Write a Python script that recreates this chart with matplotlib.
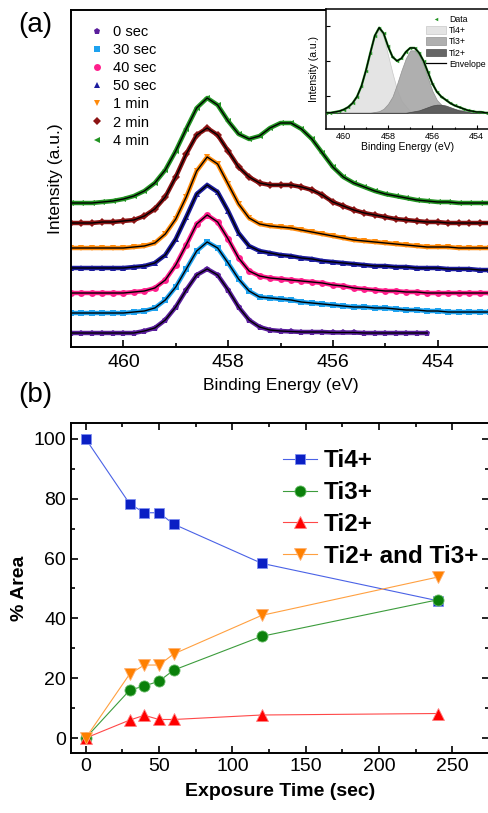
import numpy as np
import matplotlib.pyplot as plt
from matplotlib.ticker import MultipleLocator

plt.rcParams['font.family'] = ['Liberation Sans', 'DejaVu Sans']

# ---- panel (a): Ti 2p3/2 spectra (a.u., offset stacked) ----
energy = np.round(np.linspace(461.0, 453.0, 41), 1)

spec_0s = [14, 14, 14, 14, 14, 14, 14, 16, 19, 27, 40, 57, 72, 78, 72, 57, 40, 27,
           20, 17, 16, 15.5, 15, 15, 15, 14.5, 14.5, 14.5, 14, 14, 14, 14, 14, 14, 14]
spec_30s = [34, 34, 34, 34, 34, 34, 35, 36, 39, 47, 60, 78, 96, 105, 99, 84, 68, 56,
            50, 49, 48, 47, 45, 44, 43, 42, 41, 40, 40, 39, 39, 38, 37, 37, 36, 36,
            35, 35, 35, 35, 35]
spec_40s = [54, 54, 54, 54, 54, 54, 55, 56, 59, 67, 82, 102, 123, 132, 125, 108, 89,
            76, 71, 69, 68, 67, 66, 65, 64, 62, 61, 59, 58, 57, 56, 56, 55, 55, 54, 54,
            54, 54, 54, 54, 54]
spec_50s = [79, 79, 79, 79, 79, 79, 80, 81, 84, 92, 108, 130, 153, 162, 155, 136, 114,
            101, 96, 94, 92, 91, 89, 88, 86, 85, 84, 83, 82, 81, 81, 80, 80, 79, 79, 79,
            78, 78, 78, 77, 77]
spec_1min = [99, 99, 99, 99, 99, 99, 100, 101, 104, 113, 128, 150, 176, 190, 183, 163,
             143, 129, 123, 121, 120, 119, 117, 115, 113, 111, 109, 107, 106, 105, 104,
             103, 102, 101, 100, 100, 100, 99, 99, 99, 99]
spec_2min = [124, 124, 124, 125, 125, 126, 127, 131, 138, 150, 170, 193, 212, 219, 212,
             196, 180, 170, 164, 162, 162, 162, 160, 157, 152, 145, 141, 137, 134, 132,
             130, 128, 127, 126, 125, 125, 124, 124, 124, 124, 124]
spec_4min = [144, 144, 144, 145, 146, 148, 151, 156, 164, 177, 196, 218, 239, 249, 242,
             226, 213, 208, 211, 219, 224, 224, 218, 208, 194, 180, 170, 164, 160, 156,
             153, 151, 149, 147, 146, 145, 145, 144, 144, 144, 144]

labels_a = ["0 sec", "30 sec", "40 sec", "50 sec", "1 min", "2 min", "4 min"]
colors_a = ["#5a1e9c", "#1ea2ef", "#ff1f8c", "#1c1c9e", "#ff8a0a", "#8c1414", "#229422"]
markers_a = ["p", "s", "o", "^", "v", "D", "<"]
msize_a = [5, 4.5, 5, 5, 5, 4, 5]

# inset: 4 min spectrum deconvolved (component heights above background)
fit_base = 144
comp_ti4 = [0, 0, 0, 1, 2, 4, 7, 12, 20, 33, 52, 74, 94, 103, 93, 71, 49, 29, 15, 8, 2, 1,
            0, 0, 0, 0, 0, 0, 0, 0, 0, 0, 0, 0, 0, 0, 0, 0, 0, 0, 0]
comp_ti3 = [0, 0, 0, 0, 0, 0, 0, 0, 0, 0, 0, 0, 1, 2, 5, 11, 20, 35, 52, 67, 77, 77, 71,
            59, 43, 27, 16, 10, 7, 5, 4, 4, 3, 2, 2, 1, 1, 0, 0, 0, 0]
comp_ti2 = [0, 0, 0, 0, 0, 0, 0, 0, 0, 0, 0, 0, 0, 0, 0, 0, 0, 0, 0, 0, 1, 2, 3, 5, 7, 9,
            10, 10, 9, 7, 5, 3, 2, 1, 0, 0, 0, 0, 0, 0, 0]

# ---- panel (b): % area vs exposure time ----
exposure = [0, 30, 40, 50, 60, 120, 240]
area_ti4 = [100, 78.3, 75.3, 75.3, 71.5, 58.4, 45.9]
area_ti3 = [0, 16.0, 17.4, 19.0, 22.7, 34.0, 46.2]
area_ti2 = [0, 6.0, 7.6, 6.2, 6.2, 7.7, 8.2]
area_ti23 = [0, 21.4, 24.4, 24.4, 28.1, 41.0, 53.8]


def style_spines(ax, lw=1.4):
    for s in ax.spines.values():
        s.set_linewidth(lw)


fig = plt.figure(figsize=(4.88, 8.13), dpi=100)

# ---------------- panel (a) ----------------
ax = fig.add_axes([71 / 488, 466 / 813, 419 / 488, 337 / 813])
spectra = [spec_0s, spec_30s, spec_40s, spec_50s, spec_1min, spec_2min, spec_4min]
for y, lab, c, m, ms in zip(spectra, labels_a, colors_a, markers_a, msize_a):
    x = energy[:len(y)]
    # dense data band under the markers
    ax.plot(x, y, color=c, lw=3.2, solid_capstyle="round")
    ax.plot(x, y, ls="none", marker=m, ms=ms, color=c, mew=0, label=lab)
    ax.plot(x, y, color="black", lw=1.0)

ax.set_xlim(461, 453)
ax.set_ylim(0, 337)
ax.set_yticks([])
ax.xaxis.set_major_locator(MultipleLocator(2))
ax.xaxis.set_minor_locator(MultipleLocator(1))
ax.tick_params(axis="x", which="both", direction="in", labelsize=14, pad=5, width=1.2)
ax.tick_params(axis="x", which="major", length=5)
ax.tick_params(axis="x", which="minor", length=3)
ax.spines["right"].set_visible(False)
style_spines(ax)
ax.set_xlabel("Binding Energy (eV)", fontsize=12.5, labelpad=5)
ax.set_ylabel("Intensity (a.u.)", fontsize=12.5, labelpad=6)
ax.legend(loc="upper left", bbox_to_anchor=(0.045, 0.955), frameon=False, fontsize=10.5,
          handlelength=1.0, handletextpad=0.6, labelspacing=0.28, borderpad=0,
          borderaxespad=0)
fig.text(35 / 488, 1 - 25 / 813, "(a)", fontsize=20, ha="center", va="center")

# inset
axi = fig.add_axes([326 / 488, 684 / 813, 164 / 488, 120 / 813])
base = np.full(len(energy), fit_base)
t4 = base + np.array(comp_ti4)
t3 = base + np.array(comp_ti3)
t2 = base + np.array(comp_ti2)
envelope = base + np.array(comp_ti4) + np.array(comp_ti3) + np.array(comp_ti2)
axi.fill_between(energy, base, t4, color="#e4e4e4", ec="#c8c8c8", lw=0.5, label="Ti4+")
axi.fill_between(energy, base, t3, color="#a6a6a6", ec="#8c8c8c", lw=0.5, alpha=0.9,
                 label="Ti3+")
axi.fill_between(energy, base, t2, color="#555555", ec="#444444", lw=0.5, alpha=0.9,
                 label="Ti2+")
axi.plot(energy, spec_4min, color="#229422", lw=1.6, zorder=3)
axi.plot(energy, spec_4min, ls="none", marker="<", ms=2.5, mew=0, color="#229422",
         label="Data", zorder=3)
axi.plot(energy, envelope, color="black", lw=0.9, label="Envelope", zorder=4)
axi.set_xlim(460.8, 453.4)
axi.set_ylim(124, 272)
axi.set_yticks([165, 208, 251])
axi.set_yticklabels([])
axi.xaxis.set_major_locator(MultipleLocator(2))
axi.xaxis.set_minor_locator(MultipleLocator(1))
axi.tick_params(which="both", direction="in", labelsize=6.5, pad=2, width=0.8)
axi.tick_params(which="major", length=3)
axi.tick_params(which="minor", length=1.5)
axi.spines["right"].set_visible(False)
style_spines(axi, 1.1)
axi.set_xlabel("Binding Energy (eV)", fontsize=7.5, labelpad=1)
axi.set_ylabel("Intensity (a.u.)", fontsize=7.5, labelpad=3)
h, l = axi.get_legend_handles_labels()
order = [l.index(k) for k in ["Data", "Ti4+", "Ti3+", "Ti2+", "Envelope"]]
axi.legend([h[i] for i in order], [l[i] for i in order], loc="upper left",
           bbox_to_anchor=(0.61, 0.95), frameon=False, fontsize=6.3, numpoints=1,
           handlelength=2.3, handleheight=1.0, handletextpad=0.3, labelspacing=0.25,
           borderpad=0, borderaxespad=0)

# ---------------- panel (b) ----------------
bx = fig.add_axes([71 / 488, 60 / 813, 418 / 488, 330 / 813])
bx.plot(exposure, area_ti4, color="#4a62e6", lw=0.8, marker="s", ms=7.5,
        mfc="#0a1fc4", mec="#7f8ff0", mew=0.6, label="Ti4+")
bx.plot(exposure, area_ti3, color="#3c9c3c", lw=0.8, marker="o", ms=8,
        mfc="#0a800a", mec="#6cbf6c", mew=0.6, label="Ti3+")
bx.plot(exposure, area_ti2, color="#ff4848", lw=0.8, marker="^", ms=8.5,
        mfc="#ff0000", mec="#ff8080", mew=0.6, label="Ti2+")
bx.plot(exposure, area_ti23, color="#ffa040", lw=0.8, marker="v", ms=8.5,
        mfc="#ff8000", mec="#ffb070", mew=0.6, label="Ti2+ and Ti3+")
bx.set_xlim(-10, 275)
bx.set_ylim(-5, 105.3)
bx.xaxis.set_major_locator(MultipleLocator(50))
bx.xaxis.set_minor_locator(MultipleLocator(25))
bx.yaxis.set_major_locator(MultipleLocator(20))
bx.yaxis.set_minor_locator(MultipleLocator(10))
bx.tick_params(which="both", direction="in", top=True, right=True, labelsize=14,
               width=1.2)
bx.tick_params(which="major", length=5)
bx.tick_params(which="minor", length=3)
style_spines(bx)
bx.set_xlabel("Exposure Time (sec)", fontsize=14, fontweight="bold", labelpad=6)
bx.set_ylabel("% Area", fontsize=14, fontweight="bold", labelpad=4)
bx.legend(loc="upper left", bbox_to_anchor=(0.507, 0.92), frameon=False,
          prop={"size": 17.5, "weight": "bold"}, handlelength=1.4, handletextpad=0.3,
          labelspacing=0.36, borderpad=0, borderaxespad=0)
fig.text(35 / 488, 1 - 395 / 813, "(b)", fontsize=20, ha="center", va="center")

fig.savefig("out.png", dpi=100)
